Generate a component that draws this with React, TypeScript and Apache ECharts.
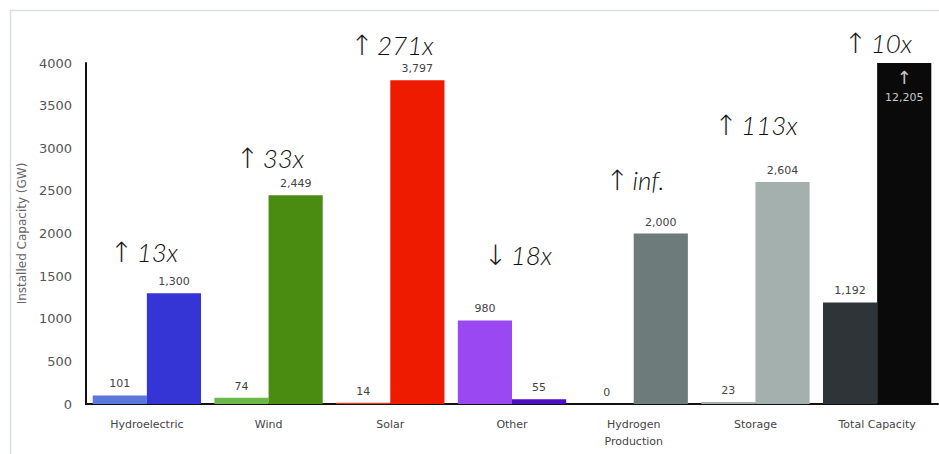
import React, { useEffect, useRef } from "react";
import * as echarts from "echarts";

const categories = ["Hydroelectric", "Wind", "Solar", "Other", "Hydrogen\nProduction", "Storage", "Total Capacity"];
const capacity2020 = [101, 74, 14, 980, 0, 23, 1192];
const capacity2050 = [1300, 2449, 3797, 55, 2000, 2604, 12205];
const changeLabels = ["↑ 13x", "↑ 33x", "↑ 271x", "↓ 18x", "↑ inf.", "↑ 113x", "↑ 10x"];
const yTicks = [0, 500, 1000, 1500, 2000, 2500, 3000, 3500, 4000];

const colors2020 = ["#5b78dc", "#6cb84a", "#e04030", "#9a48f2", "#6d7c7a", "#a4b0ae", "#2e3437"];
const colors2050 = ["#3535d6", "#4a8c12", "#ee1b00", "#4b10c0", "#6d7c7a", "#a4b0ae", "#0a0a0a"];
// annotation anchor (pixel centre) positions — layout only
const annotationPos = [
  [144, 252], [270, 158], [392, 45], [518, 255], [635, 180], [756, 125], [878, 43],
];

const Y_MAX = yTicks[yTicks.length - 1];
const fmt = (v: number) => v.toLocaleString("en-US");
const smallFont = "DejaVu Sans";

export default function App() {
  const ref = useRef<HTMLDivElement>(null);
  useEffect(() => {
    if (!ref.current) return;
    const chart = echarts.init(ref.current, undefined, { renderer: "svg" });
    const mkData = (vals: number[], cols: string[]) =>
      vals.map((v, i) => {
        const over = v > Y_MAX;
        return {
          value: Math.min(v, Y_MAX),
          itemStyle: { color: cols[i] },
          label: over
            ? {
                position: "insideTop",
                distance: 4,
                color: "#c8c8c8",
                lineHeight: 20,
                formatter: "{a|↑}\n" + fmt(v),
                rich: { a: { fontSize: 18, color: "#c8c8c8", lineHeight: 20 } },
              }
            : { formatter: fmt(v) },
        };
      });
    const labelBase = {
      show: true,
      position: "top",
      distance: 6,
      fontFamily: smallFont,
      fontSize: 11,
      color: "#444",
    };
    chart.setOption({
      animation: false,
      backgroundColor: "#ffffff",
      grid: { left: 86, right: 1, top: 63, bottom: 50, containLabel: false },
      xAxis: {
        type: "category",
        data: categories,
        axisLine: { lineStyle: { color: "#111", width: 2 } },
        axisTick: { show: false },
        axisLabel: {
          fontFamily: smallFont,
          fontSize: 11,
          color: "#444",
          margin: 12,
          lineHeight: 17,
          interval: 0,
        },
      },
      yAxis: {
        type: "value",
        min: 0,
        max: Y_MAX,
        interval: 500,
        name: "Installed Capacity (GW)",
        nameLocation: "middle",
        nameGap: 56,
        nameTextStyle: { fontFamily: smallFont, fontSize: 12, color: "#666" },
        axisLine: { show: true, lineStyle: { color: "#111", width: 2 } },
        axisTick: { show: false },
        splitLine: { show: false },
        axisLabel: {
          fontFamily: smallFont,
          fontSize: 13,
          color: "#555",
          margin: 14,
          formatter: (v: number) => String(v),
        },
      },
      series: [
        {
          name: "2020",
          type: "bar",
          barGap: "0%",
          barCategoryGap: "11%",
          data: mkData(capacity2020, colors2020),
          label: labelBase,
        },
        {
          name: "2050",
          type: "bar",
          barGap: "0%",
          barCategoryGap: "11%",
          data: mkData(capacity2050, colors2050),
          label: labelBase,
        },
      ],
      graphic: [
        {
          type: "rect",
          shape: { x: 10.5, y: 10.5, width: 960, height: 480 },
          style: { fill: "none", stroke: "#d6dde8", lineWidth: 1.5 },
          silent: true,
          z: -1,
        },
        ...changeLabels.map((t, i) => {
          const arrow = t.slice(0, 1);
          const rest = t.slice(2);
          return {
            type: "text",
            x: annotationPos[i][0],
            y: annotationPos[i][1],
            style: {
              text: "{a|" + arrow + "} {b|" + rest + "}",
              align: "center",
              verticalAlign: "middle",
              rich: {
                a: { fontFamily: "DejaVu Sans", fontSize: 28, fontWeight: 200, fill: "#1a1a1a", color: "#1a1a1a" },
                b: { fontFamily: "Lato", fontStyle: "italic", fontWeight: 300, fontSize: 26, fill: "#111", color: "#111" },
              },
            },
          };
        }),
      ],
    });
    return () => chart.dispose();
  }, []);
  return (
    <div
      ref={ref}
      style={{ position: "fixed", left: 0, top: 0, width: 939, height: 454, background: "#fff" }}
    />
  );
}
